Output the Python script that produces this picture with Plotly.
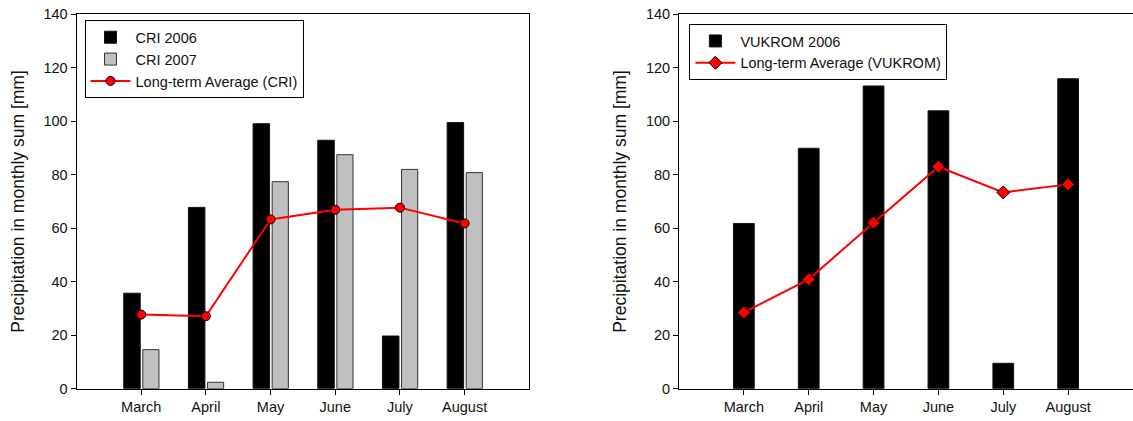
import plotly.graph_objects as go

months = ["March", "April", "May", "June", "July", "August"]
cri_2006 = [35.7, 67.8, 99.1, 92.9, 19.7, 99.5]
cri_2007 = [14.6, 2.4, 77.4, 87.5, 82.0, 80.8]
cri_avg = [27.7, 27.1, 63.3, 66.9, 67.7, 61.8]
vuk_2006 = [61.8, 89.9, 113.2, 103.9, 9.5, 115.9]
vuk_avg = [28.5, 40.9, 62.1, 83.0, 73.4, 76.4]
y_ticks = [0, 20, 40, 60, 80, 100, 120, 140]

W, H = 1133, 421
FONT = "Liberation Sans, Arial, sans-serif"

fig = go.Figure()

# Left panel
fig.add_trace(go.Bar(x=months, y=cri_2006, name="CRI 2006", xaxis="x", yaxis="y",
                     marker=dict(color="black", line=dict(color="#111", width=1)),
                     width=0.255, offset=-0.27, legend="legend"))
fig.add_trace(go.Bar(x=months, y=cri_2007, name="CRI 2007", xaxis="x", yaxis="y",
                     marker=dict(color="#c0c0c0", line=dict(color="#333", width=1)),
                     width=0.25, offset=0.025, legend="legend"))
fig.add_trace(go.Scatter(x=months, y=cri_avg, name="Long-term Average (CRI)", xaxis="x", yaxis="y",
                         mode="lines+markers", line=dict(color="#ff0000", width=2),
                         marker=dict(symbol="circle", size=9, color="#ff0000",
                                     line=dict(color="black", width=1)),
                         legend="legend"))

# Right panel
fig.add_trace(go.Bar(x=months, y=vuk_2006, name="VUKROM 2006", xaxis="x2", yaxis="y2",
                     marker=dict(color="black", line=dict(color="#111", width=1)),
                     width=0.32, legend="legend2"))
fig.add_trace(go.Scatter(x=months, y=vuk_avg, name="Long-term Average (VUKROM)", xaxis="x2", yaxis="y2",
                         mode="lines+markers", line=dict(color="#ff0000", width=2),
                         marker=dict(symbol="diamond", size=10, color="#ff0000",
                                     line=dict(color="black", width=1)),
                         legend="legend2"))

y0 = (H - 388.7) / H
y1 = (H - 14.3) / H

xax = dict(type="category", range=[-1, 6], showline=True, linecolor="black", linewidth=1,
           mirror=True, ticks="outside", ticklen=5, tickcolor="black", showgrid=False,
           zeroline=False, automargin=False,
           tickfont=dict(size=14.5, color="#111", family=FONT))
yax = dict(range=[0, 140], tickvals=y_ticks, showline=True, linecolor="black", linewidth=1,
           ticks="outside", ticklen=5, tickcolor="black", showgrid=False, zeroline=False,
           automargin=False,
           tickfont=dict(size=14.5, color="#111", family=FONT),
           title=dict(text="Precipitation in monthly sum [mm]",
                      font=dict(size=17.5, color="#111", family=FONT), standoff=14))

leg_common = dict(xanchor="left", yanchor="top", bordercolor="black", borderwidth=1,
                  bgcolor="white", itemwidth=40, traceorder="normal",
                  font=dict(size=14.5, color="#111", family=FONT))

fig.update_layout(
    width=W, height=H,
    margin=dict(l=0, r=0, t=0, b=0),
    paper_bgcolor="white", plot_bgcolor="white",
    font=dict(family=FONT, color="#111", size=14.5),
    barmode="overlay",
    xaxis=dict(xax, domain=[76.5 / W, 529.3 / W], anchor="y"),
    yaxis=dict(yax, domain=[y0, y1], anchor="x", mirror=True),
    xaxis2=dict(xax, domain=[679 / W, 1.0], anchor="y2"),
    yaxis2=dict(yax, domain=[y0, y1], anchor="x2", mirror=False),
    legend=dict(leg_common, x=84.5 / W, y=(H - 20.3) / H),
    legend2=dict(leg_common, x=689.4 / W, y=(H - 24) / H),
    showlegend=True,
)

fig.write_html("out.html", config={"displayModeBar": False},
               post_script="document.body.style.margin='0';document.body.style.overflow='hidden';")
